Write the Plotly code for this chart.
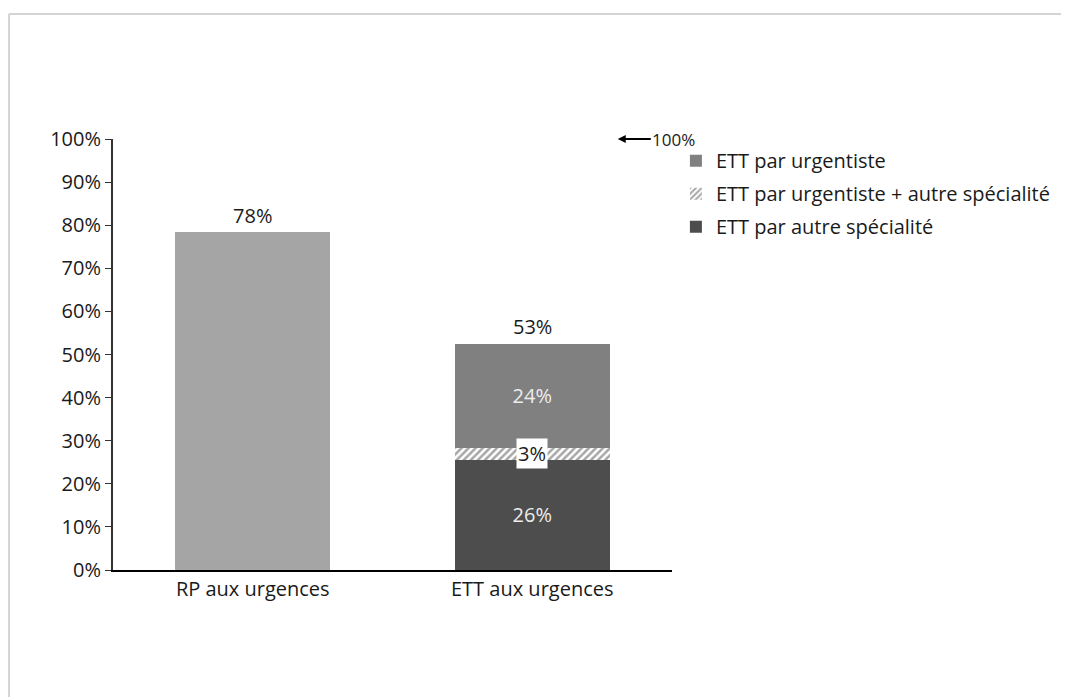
import plotly.graph_objects as go

# ── Data ──────────────────────────────────────────────────────────────────────
CATEGORIES = ["RP aux urgences", "ETT aux urgences"]
RP_VALUE = 78.4
ETT_AUTRE = 25.6       # ETT par autre spécialité
ETT_MIXTE = 2.8        # ETT par urgentiste + autre spécialité
ETT_URGENTISTE = 24.1  # ETT par urgentiste
LABEL_RP = "78%"
LABEL_ETT_TOTAL = "53%"
LABEL_AUTRE = "26%"
LABEL_MIXTE = "3%"
LABEL_URGENTISTE = "24%"
Y_TICKS = list(range(0, 101, 10))

# ── Colours ──────────────────────────────────────────────────────────────────
LIGHT = "#a5a5a5"
MID = "#808080"
DARK = "#4d4d4d"
TEXT = "#1a1a1a"
FONT = "Open Sans, sans-serif"
FS = 20

fig = go.Figure()

fig.add_trace(go.Bar(
    x=[CATEGORIES[0]], y=[RP_VALUE],
    marker=dict(color=LIGHT, line=dict(width=0)),
    text=[LABEL_RP], textposition="outside",
    textfont=dict(color=TEXT, size=FS, family=FONT),
    showlegend=False, width=0.555, cliponaxis=False,
))
fig.add_trace(go.Bar(
    x=[CATEGORIES[1]], y=[ETT_AUTRE], name="ETT par autre spécialité",
    legendgroup="autre", legendrank=3,
    marker=dict(color=DARK, line=dict(width=0)),
    text=[LABEL_AUTRE], textposition="inside", insidetextanchor="middle",
    textfont=dict(color="#ececec", size=FS, family=FONT), width=0.555,
))
fig.add_trace(go.Bar(
    x=[CATEGORIES[1]], y=[ETT_MIXTE], name="ETT par urgentiste + autre spécialité",
    legendgroup="mixte", legendrank=2,
    marker=dict(color="white", line=dict(width=0),
                pattern=dict(shape="/", fgcolor=DARK, bgcolor="white", size=5, solidity=0.5)),
    width=0.555,
))
fig.add_trace(go.Bar(
    x=[CATEGORIES[1]], y=[ETT_URGENTISTE], name="ETT par urgentiste",
    legendgroup="urg", legendrank=1,
    marker=dict(color=MID, line=dict(width=0)),
    text=[LABEL_URGENTISTE], textposition="inside", insidetextanchor="middle",
    textfont=dict(color="#ececec", size=FS, family=FONT), width=0.555,
))

# label for the thin hatched segment, white box
fig.add_annotation(
    x=CATEGORIES[1], y=ETT_AUTRE + ETT_MIXTE / 2, text=LABEL_MIXTE,
    showarrow=False, bgcolor="white", borderpad=1,
    font=dict(color=TEXT, size=FS, family=FONT),
)
# total above the stacked bar
fig.add_annotation(
    x=CATEGORIES[1], y=ETT_AUTRE + ETT_MIXTE + ETT_URGENTISTE, text=LABEL_ETT_TOTAL,
    showarrow=False, yanchor="bottom", yshift=2,
    font=dict(color=TEXT, size=FS, family=FONT),
)
# "← 100%" marker
fig.add_annotation(
    x=0.903, xref="paper", y=100, yref="y", text="100%",
    showarrow=True, arrowhead=2, arrowsize=0.8, arrowwidth=2, arrowcolor="black",
    ax=56, ay=0, font=dict(color=TEXT, size=17, family=FONT),
)

# page frame (light gray border top and left)
fig.add_shape(type="line", xref="paper", yref="paper", x0=-0.186, x1=-0.186, y0=-0.3, y1=1.29,
              line=dict(color="#d4d4d4", width=2))
fig.add_shape(type="line", xref="paper", yref="paper", x0=-0.186, x1=1.72, y0=1.29, y1=1.29,
              line=dict(color="#d4d4d4", width=2))

fig.update_layout(
    barmode="stack",
    width=1061, height=689,
    margin=dict(l=105, r=397, t=131, b=127),
    paper_bgcolor="white", plot_bgcolor="white",
    font=dict(family=FONT, color=TEXT, size=FS),
    bargap=0.445,
    legend=dict(
        x=1.007, y=0.995, xanchor="left", yanchor="top",
        traceorder="grouped", font=dict(size=FS, family=FONT, color=TEXT),
        itemwidth=30, tracegroupgap=4, bgcolor="rgba(0,0,0,0)",
    ),
    xaxis=dict(
        showline=True, linecolor="black", linewidth=1.5,
        ticks="", showgrid=False, range=[-0.5, 1.5],
        tickfont=dict(size=FS),
    ),
    yaxis=dict(
        range=[0, 100], tickvals=Y_TICKS, ticktext=[f"{v}%" for v in Y_TICKS],
        showline=True, linecolor="#333333", linewidth=2,
        ticks="outside", ticklen=6, tickcolor="#333333",
        showgrid=False, zeroline=False, tickfont=dict(size=FS),
    ),
    showlegend=True,
)

fig.write_html("out.html")
